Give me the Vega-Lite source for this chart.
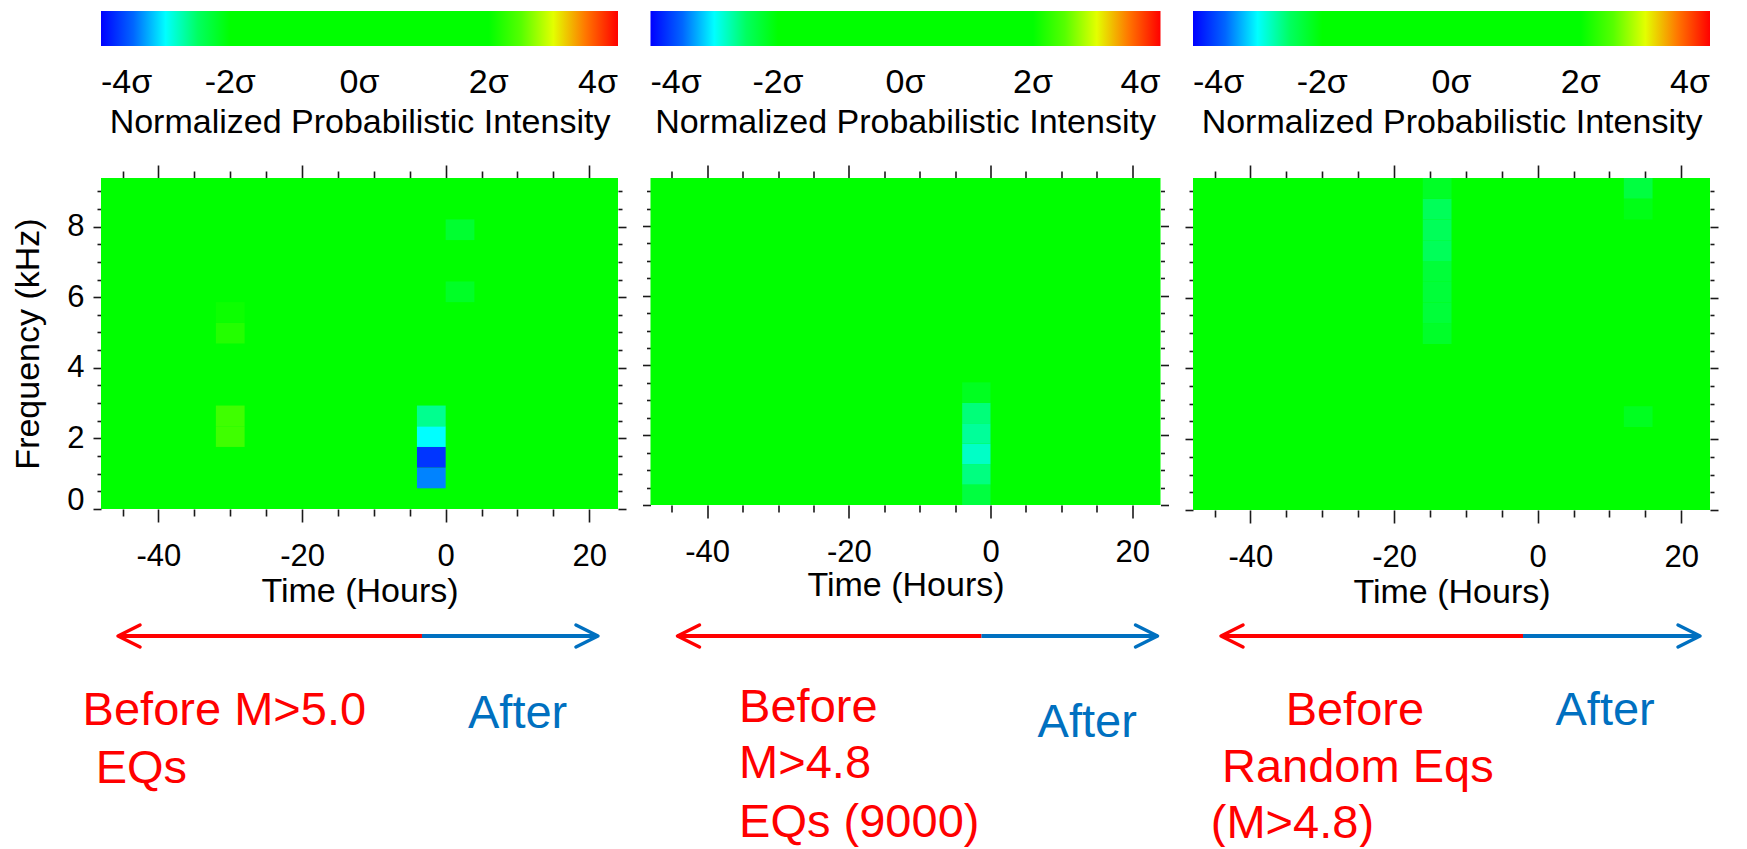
{
"$schema": "https://vega.github.io/schema/vega-lite/v6.json",
"background": "white",
"padding": {"left": 11, "top": 11, "right": 0, "bottom": 0},
"config": {
  "view": {"stroke": null},
  "axis": {"domain": false, "grid": false, "tickColor": "#1a1a1a", "tickWidth": 1.6, "labelFont": "Liberation Sans", "titleFont": "Liberation Sans", "labelColor": "#000", "titleColor": "#000", "titleFontWeight": "normal", "labelFontSize": 31, "titleFontSize": 34},
  "legend": {"labelFont": "Liberation Sans", "titleFont": "Liberation Sans", "labelColor": "#000", "titleColor": "#000", "titleFontWeight": "normal", "titleLimit": 1000, "labelLimit": 200}
},
"datasets": {
  "cells": [
    {"panel":1,"t0":-48,"t1":24,"f0":0,"f1":9.375,"v":0},
    {"panel":1,"t0":-4,"t1":0,"f0":0.586,"f1":1.172,"v":-3.35},
    {"panel":1,"t0":-4,"t1":0,"f0":1.172,"f1":1.758,"v":-3.75},
    {"panel":1,"t0":-4,"t1":0,"f0":1.758,"f1":2.344,"v":-3.0},
    {"panel":1,"t0":-4,"t1":0,"f0":2.344,"f1":2.93,"v":-2.65},
    {"panel":1,"t0":-32,"t1":-28,"f0":1.758,"f1":2.344,"v":2.42},
    {"panel":1,"t0":-32,"t1":-28,"f0":2.344,"f1":2.93,"v":2.42},
    {"panel":1,"t0":-32,"t1":-28,"f0":4.688,"f1":5.273,"v":2.32},
    {"panel":1,"t0":-32,"t1":-28,"f0":5.273,"f1":5.859,"v":2.24},
    {"panel":1,"t0":0,"t1":4,"f0":5.859,"f1":6.445,"v":-2.32},
    {"panel":1,"t0":0,"t1":4,"f0":7.617,"f1":8.203,"v":-2.35},
    {"panel":2,"t0":-48,"t1":24,"f0":0,"f1":9.375,"v":0},
    {"panel":2,"t0":-4,"t1":0,"f0":0,"f1":0.586,"v":-2.4},
    {"panel":2,"t0":-4,"t1":0,"f0":0.586,"f1":1.172,"v":-2.6},
    {"panel":2,"t0":-4,"t1":0,"f0":1.172,"f1":1.758,"v":-2.82},
    {"panel":2,"t0":-4,"t1":0,"f0":1.758,"f1":2.344,"v":-2.68},
    {"panel":2,"t0":-4,"t1":0,"f0":2.344,"f1":2.93,"v":-2.58},
    {"panel":2,"t0":-4,"t1":0,"f0":2.93,"f1":3.516,"v":-2.3},
    {"panel":3,"t0":-48,"t1":24,"f0":0,"f1":9.375,"v":0},
    {"panel":3,"t0":-16,"t1":-12,"f0":4.688,"f1":5.273,"v":-2.33},
    {"panel":3,"t0":-16,"t1":-12,"f0":5.273,"f1":5.859,"v":-2.38},
    {"panel":3,"t0":-16,"t1":-12,"f0":5.859,"f1":6.445,"v":-2.38},
    {"panel":3,"t0":-16,"t1":-12,"f0":6.445,"f1":7.031,"v":-2.38},
    {"panel":3,"t0":-16,"t1":-12,"f0":7.031,"f1":7.617,"v":-2.48},
    {"panel":3,"t0":-16,"t1":-12,"f0":7.617,"f1":8.203,"v":-2.48},
    {"panel":3,"t0":-16,"t1":-12,"f0":8.203,"f1":8.789,"v":-2.48},
    {"panel":3,"t0":-16,"t1":-12,"f0":8.789,"f1":9.375,"v":-2.32},
    {"panel":3,"t0":12,"t1":16,"f0":8.789,"f1":9.375,"v":-2.4},
    {"panel":3,"t0":12,"t1":16,"f0":8.203,"f1":8.789,"v":-2.27},
    {"panel":3,"t0":12,"t1":16,"f0":2.344,"f1":2.93,"v":-2.3}
  ],
  "arrows": [
    {"panel":1,"phase":"Before","t0":-45.63,"t1":-3.3,"f":-3.597},
    {"panel":1,"phase":"After","t0":-3.3,"t1":21.21,"f":-3.597},
    {"panel":2,"phase":"Before","t0":-44.19,"t1":-1.27,"f":-3.756},
    {"panel":2,"phase":"After","t0":-1.27,"t1":23.58,"f":-3.756},
    {"panel":3,"phase":"Before","t0":-44.1,"t1":-2.04,"f":-3.558},
    {"panel":3,"phase":"After","t0":-2.04,"t1":22.61,"f":-3.558}
  ],
  "heads": [
    {"panel":1,"phase":"Before","t":-45.63,"f":-3.597},
    {"panel":1,"phase":"After","t":21.21,"f":-3.597},
    {"panel":2,"phase":"Before","t":-44.19,"f":-3.756},
    {"panel":2,"phase":"After","t":23.58,"f":-3.756},
    {"panel":3,"phase":"Before","t":-44.1,"f":-3.558},
    {"panel":3,"phase":"After","t":22.61,"f":-3.558}
  ],
  "notes": [
    {"panel":1,"phase":"Before","t":-50.56,"f":-6.118,"label":"Before M>5.0"},
    {"panel":1,"phase":"Before","t":-48.74,"f":-7.752,"label":"EQs"},
    {"panel":1,"phase":"After","t":3.11,"f":-6.203,"label":"After"},
    {"panel":2,"phase":"Before","t":-35.49,"f":-6.221,"label":"Before"},
    {"panel":2,"phase":"Before","t":-35.49,"f":-7.827,"label":"M>4.8"},
    {"panel":2,"phase":"Before","t":-35.49,"f":-9.518,"label":"EQs (9000)"},
    {"panel":2,"phase":"After","t":6.64,"f":-6.651,"label":"After"},
    {"panel":3,"phase":"Before","t":-35.1,"f":-6.071,"label":"Before"},
    {"panel":3,"phase":"Before","t":-43.96,"f":-7.672,"label":"Random Eqs"},
    {"panel":3,"phase":"Before","t":-45.52,"f":-9.262,"label":"(M>4.8)"},
    {"panel":3,"phase":"After","t":2.48,"f":-6.071,"label":"After"}
  ]
},
"spacing": 14.5,
"resolve": {"scale": {"color": "independent"}, "legend": {"color": "independent"}},
"hconcat": [
  {
    "width": 517, "height": 331,
    "resolve": {"axis": {"x": "independent", "y": "independent"}},
    "layer": [
      {"data": {"name": "cells"}, "transform": [{"filter": "datum.panel === 1"}],
       "mark": {"type": "rect"},
       "encoding": {
         "x": {"field": "t0", "type": "quantitative", "scale": {"domain": [-48, 24], "nice": false, "zero": false},
               "axis": {"orient": "bottom", "values": [-40,-20,0,20], "tickSize": 13, "labelExpr": "'' + datum.value", "labelBaseline": "alphabetic", "labelPadding": 43, "labelFlush": false, "labelOverlap": false, "title": "Time (Hours)", "titleBaseline": "alphabetic", "titleY": 92}},
         "x2": {"field": "t1"},
         "y": {"field": "f0", "type": "quantitative", "scale": {"domain": [0, 9.375], "nice": false, "zero": false},
               "axis": {"orient": "left", "values": [0,2,4,6,8], "tickSize": 8, "labelExpr": "'' + datum.value", "labelPadding": 9, "labelBaseline": {"condition": {"test": "datum.value === 0", "value": "alphabetic"}, "value": "middle"}, "title": "Frequency (kHz)", "titleX": -56}},
         "y2": {"field": "f1"},
         "color": {"field": "v", "type": "quantitative",
                   "scale": {"type": "linear", "domain": [-4,-3.7,-3.2,-3,-2.2,2.2,2.7,3.1,3.4,3.7,4], "range": ["#0000ff","#0040ff","#00a0ff","#00ffff","#00ff00","#00ff00","#90ff00","#ffff00","#ff9900","#ff3000","#ff0000"], "interpolate": "rgb"},
                   "legend": {"orient": "none", "legendX": 0, "legendY": -167, "direction": "horizontal", "gradientLength": 517, "gradientThickness": 35, "gradientStrokeWidth": 0, "values": [-4,-2,0,2,4], "labelExpr": "datum.value + 'σ'", "labelFontSize": 34, "labelAlign": "center", "labelOffset": 20, "labelOverlap": false, "title": "Normalized Probabilistic Intensity", "titleOrient": "bottom", "titleAnchor": "middle", "titleFontSize": 34, "titlePadding": 6, "padding": 0}}
       }},
      {"data": {"name": "cells"}, "transform": [{"filter": "datum.panel === 1"}],
       "mark": {"type": "rect", "opacity": 0},
       "encoding": {
         "x": {"field": "t0", "type": "quantitative", "scale": {"domain": [-48, 24], "nice": false, "zero": false},
               "axis": {"orient": "bottom", "values": [-45,-35,-30,-25,-15,-10,-5,5,10,15], "tickSize": 7, "labels": false, "title": null}},
         "x2": {"field": "t1"},
         "y": {"field": "f0", "type": "quantitative", "scale": {"domain": [0, 9.375], "nice": false, "zero": false},
               "axis": {"orient": "left", "values": [0.5,1,1.5,2.5,3,3.5,4.5,5,5.5,6.5,7,7.5,8.5,9], "tickSize": 4, "labels": false, "title": null}},
         "y2": {"field": "f1"}
       }},
      {"data": {"name": "cells"}, "transform": [{"filter": "datum.panel === 1"}],
       "mark": {"type": "rect", "opacity": 0},
       "encoding": {
         "x": {"field": "t0", "type": "quantitative", "scale": {"domain": [-48, 24], "nice": false, "zero": false},
               "axis": {"orient": "top", "values": [-40,-20,0,20], "tickSize": 13, "labels": false, "title": null}},
         "x2": {"field": "t1"},
         "y": {"field": "f0", "type": "quantitative", "scale": {"domain": [0, 9.375], "nice": false, "zero": false},
               "axis": {"orient": "right", "values": [0,2,4,6,8], "tickSize": 8, "labels": false, "title": null}},
         "y2": {"field": "f1"}
       }},
      {"data": {"name": "cells"}, "transform": [{"filter": "datum.panel === 1"}],
       "mark": {"type": "rect", "opacity": 0},
       "encoding": {
         "x": {"field": "t0", "type": "quantitative", "scale": {"domain": [-48, 24], "nice": false, "zero": false},
               "axis": {"orient": "top", "values": [-45,-35,-30,-25,-15,-10,-5,5,10,15], "tickSize": 7, "labels": false, "title": null}},
         "x2": {"field": "t1"},
         "y": {"field": "f0", "type": "quantitative", "scale": {"domain": [0, 9.375], "nice": false, "zero": false},
               "axis": {"orient": "right", "values": [0.5,1,1.5,2.5,3,3.5,4.5,5,5.5,6.5,7,7.5,8.5,9], "tickSize": 4, "labels": false, "title": null}},
         "y2": {"field": "f1"}
       }},
      {"data": {"name": "arrows"}, "transform": [{"filter": "datum.panel === 1"}],
       "mark": {"type": "rule", "strokeWidth": 4},
       "encoding": {
         "x": {"field": "t0", "type": "quantitative", "scale": {"domain": [-48, 24], "nice": false, "zero": false}, "axis": null},
         "x2": {"field": "t1"},
         "y": {"field": "f", "type": "quantitative", "scale": {"domain": [0, 9.375], "nice": false, "zero": false}, "axis": null},
         "stroke": {"field": "phase", "type": "nominal", "scale": {"domain": ["Before","After"], "range": ["#ff0000","#0070c0"]}, "legend": null}
       }},
      {"data": {"name": "heads"}, "transform": [{"filter": "datum.panel === 1"}],
       "mark": {"type": "point", "filled": false, "strokeWidth": 3.5, "strokeJoin": "round", "strokeCap": "round", "size": 484, "opacity": 1},
       "encoding": {
         "x": {"field": "t", "type": "quantitative", "scale": {"domain": [-48, 24], "nice": false, "zero": false}, "axis": null},
         "y": {"field": "f", "type": "quantitative", "scale": {"domain": [0, 9.375], "nice": false, "zero": false}, "axis": null},
         "stroke": {"field": "phase", "type": "nominal", "scale": {"domain": ["Before","After"], "range": ["#ff0000","#0070c0"]}, "legend": null},
         "shape": {"field": "phase", "type": "nominal", "scale": {"domain": ["Before","After"], "range": ["M2,-1L0,0L2,1","M-2,-1L0,0L-2,1"]}, "legend": null}
       }},
      {"data": {"name": "notes"}, "transform": [{"filter": "datum.panel === 1"}],
       "mark": {"type": "text", "align": "left", "baseline": "alphabetic", "fontSize": 47, "font": "Liberation Sans"},
       "encoding": {
         "x": {"field": "t", "type": "quantitative", "scale": {"domain": [-48, 24], "nice": false, "zero": false}, "axis": null},
         "y": {"field": "f", "type": "quantitative", "scale": {"domain": [0, 9.375], "nice": false, "zero": false}, "axis": null},
         "text": {"field": "label"},
         "fill": {"field": "phase", "type": "nominal", "scale": {"domain": ["Before","After"], "range": ["#ff0000","#0070c0"]}, "legend": null}
       }}
    ]
  },
  {
    "width": 510, "height": 327,
    "resolve": {"axis": {"x": "independent", "y": "independent"}},
    "layer": [
      {"data": {"name": "cells"}, "transform": [{"filter": "datum.panel === 2"}],
       "mark": {"type": "rect"},
       "encoding": {
         "x": {"field": "t0", "type": "quantitative", "scale": {"domain": [-48, 24], "nice": false, "zero": false},
               "axis": {"orient": "bottom", "values": [-40,-20,0,20], "tickSize": 13, "labelExpr": "'' + datum.value", "labelBaseline": "alphabetic", "labelPadding": 43, "labelFlush": false, "labelOverlap": false, "title": "Time (Hours)", "titleBaseline": "alphabetic", "titleY": 90}},
         "x2": {"field": "t1"},
         "y": {"field": "f0", "type": "quantitative", "scale": {"domain": [0, 9.375], "nice": false, "zero": false},
               "axis": {"orient": "left", "values": [0,2,4,6,8], "tickSize": 8, "labels": false, "title": null}},
         "y2": {"field": "f1"},
         "color": {"field": "v", "type": "quantitative",
                   "scale": {"type": "linear", "domain": [-4,-3.7,-3.2,-3,-2.2,2.2,2.7,3.1,3.4,3.7,4], "range": ["#0000ff","#0040ff","#00a0ff","#00ffff","#00ff00","#00ff00","#90ff00","#ffff00","#ff9900","#ff3000","#ff0000"], "interpolate": "rgb"},
                   "legend": {"orient": "none", "legendX": 0, "legendY": -167, "direction": "horizontal", "gradientLength": 510, "gradientThickness": 35, "gradientStrokeWidth": 0, "values": [-4,-2,0,2,4], "labelExpr": "datum.value + 'σ'", "labelFontSize": 34, "labelAlign": "center", "labelOffset": 20, "labelOverlap": false, "title": "Normalized Probabilistic Intensity", "titleOrient": "bottom", "titleAnchor": "middle", "titleFontSize": 34, "titlePadding": 6, "padding": 0}}
       }},
      {"data": {"name": "cells"}, "transform": [{"filter": "datum.panel === 2"}],
       "mark": {"type": "rect", "opacity": 0},
       "encoding": {
         "x": {"field": "t0", "type": "quantitative", "scale": {"domain": [-48, 24], "nice": false, "zero": false},
               "axis": {"orient": "bottom", "values": [-45,-35,-30,-25,-15,-10,-5,5,10,15], "tickSize": 7, "labels": false, "title": null}},
         "x2": {"field": "t1"},
         "y": {"field": "f0", "type": "quantitative", "scale": {"domain": [0, 9.375], "nice": false, "zero": false},
               "axis": {"orient": "left", "values": [0.5,1,1.5,2.5,3,3.5,4.5,5,5.5,6.5,7,7.5,8.5,9], "tickSize": 4, "labels": false, "title": null}},
         "y2": {"field": "f1"}
       }},
      {"data": {"name": "cells"}, "transform": [{"filter": "datum.panel === 2"}],
       "mark": {"type": "rect", "opacity": 0},
       "encoding": {
         "x": {"field": "t0", "type": "quantitative", "scale": {"domain": [-48, 24], "nice": false, "zero": false},
               "axis": {"orient": "top", "values": [-40,-20,0,20], "tickSize": 13, "labels": false, "title": null}},
         "x2": {"field": "t1"},
         "y": {"field": "f0", "type": "quantitative", "scale": {"domain": [0, 9.375], "nice": false, "zero": false},
               "axis": {"orient": "right", "values": [0,2,4,6,8], "tickSize": 8, "labels": false, "title": null}},
         "y2": {"field": "f1"}
       }},
      {"data": {"name": "cells"}, "transform": [{"filter": "datum.panel === 2"}],
       "mark": {"type": "rect", "opacity": 0},
       "encoding": {
         "x": {"field": "t0", "type": "quantitative", "scale": {"domain": [-48, 24], "nice": false, "zero": false},
               "axis": {"orient": "top", "values": [-45,-35,-30,-25,-15,-10,-5,5,10,15], "tickSize": 7, "labels": false, "title": null}},
         "x2": {"field": "t1"},
         "y": {"field": "f0", "type": "quantitative", "scale": {"domain": [0, 9.375], "nice": false, "zero": false},
               "axis": {"orient": "right", "values": [0.5,1,1.5,2.5,3,3.5,4.5,5,5.5,6.5,7,7.5,8.5,9], "tickSize": 4, "labels": false, "title": null}},
         "y2": {"field": "f1"}
       }},
      {"data": {"name": "arrows"}, "transform": [{"filter": "datum.panel === 2"}],
       "mark": {"type": "rule", "strokeWidth": 4},
       "encoding": {
         "x": {"field": "t0", "type": "quantitative", "scale": {"domain": [-48, 24], "nice": false, "zero": false}, "axis": null},
         "x2": {"field": "t1"},
         "y": {"field": "f", "type": "quantitative", "scale": {"domain": [0, 9.375], "nice": false, "zero": false}, "axis": null},
         "stroke": {"field": "phase", "type": "nominal", "scale": {"domain": ["Before","After"], "range": ["#ff0000","#0070c0"]}, "legend": null}
       }},
      {"data": {"name": "heads"}, "transform": [{"filter": "datum.panel === 2"}],
       "mark": {"type": "point", "filled": false, "strokeWidth": 3.5, "strokeJoin": "round", "strokeCap": "round", "size": 484, "opacity": 1},
       "encoding": {
         "x": {"field": "t", "type": "quantitative", "scale": {"domain": [-48, 24], "nice": false, "zero": false}, "axis": null},
         "y": {"field": "f", "type": "quantitative", "scale": {"domain": [0, 9.375], "nice": false, "zero": false}, "axis": null},
         "stroke": {"field": "phase", "type": "nominal", "scale": {"domain": ["Before","After"], "range": ["#ff0000","#0070c0"]}, "legend": null},
         "shape": {"field": "phase", "type": "nominal", "scale": {"domain": ["Before","After"], "range": ["M2,-1L0,0L2,1","M-2,-1L0,0L-2,1"]}, "legend": null}
       }},
      {"data": {"name": "notes"}, "transform": [{"filter": "datum.panel === 2"}],
       "mark": {"type": "text", "align": "left", "baseline": "alphabetic", "fontSize": 47, "font": "Liberation Sans"},
       "encoding": {
         "x": {"field": "t", "type": "quantitative", "scale": {"domain": [-48, 24], "nice": false, "zero": false}, "axis": null},
         "y": {"field": "f", "type": "quantitative", "scale": {"domain": [0, 9.375], "nice": false, "zero": false}, "axis": null},
         "text": {"field": "label"},
         "fill": {"field": "phase", "type": "nominal", "scale": {"domain": ["Before","After"], "range": ["#ff0000","#0070c0"]}, "legend": null}
       }}
    ]
  },
  {
    "width": 517, "height": 332,
    "resolve": {"axis": {"x": "independent", "y": "independent"}},
    "layer": [
      {"data": {"name": "cells"}, "transform": [{"filter": "datum.panel === 3"}],
       "mark": {"type": "rect"},
       "encoding": {
         "x": {"field": "t0", "type": "quantitative", "scale": {"domain": [-48, 24], "nice": false, "zero": false},
               "axis": {"orient": "bottom", "values": [-40,-20,0,20], "tickSize": 13, "labelExpr": "'' + datum.value", "labelBaseline": "alphabetic", "labelPadding": 43, "labelFlush": false, "labelOverlap": false, "title": "Time (Hours)", "titleBaseline": "alphabetic", "titleY": 92}},
         "x2": {"field": "t1"},
         "y": {"field": "f0", "type": "quantitative", "scale": {"domain": [0, 9.375], "nice": false, "zero": false},
               "axis": {"orient": "left", "values": [0,2,4,6,8], "tickSize": 8, "labels": false, "title": null}},
         "y2": {"field": "f1"},
         "color": {"field": "v", "type": "quantitative",
                   "scale": {"type": "linear", "domain": [-4,-3.7,-3.2,-3,-2.2,2.2,2.7,3.1,3.4,3.7,4], "range": ["#0000ff","#0040ff","#00a0ff","#00ffff","#00ff00","#00ff00","#90ff00","#ffff00","#ff9900","#ff3000","#ff0000"], "interpolate": "rgb"},
                   "legend": {"orient": "none", "legendX": 0, "legendY": -167, "direction": "horizontal", "gradientLength": 517, "gradientThickness": 35, "gradientStrokeWidth": 0, "values": [-4,-2,0,2,4], "labelExpr": "datum.value + 'σ'", "labelFontSize": 34, "labelAlign": "center", "labelOffset": 20, "labelOverlap": false, "title": "Normalized Probabilistic Intensity", "titleOrient": "bottom", "titleAnchor": "middle", "titleFontSize": 34, "titlePadding": 6, "padding": 0}}
       }},
      {"data": {"name": "cells"}, "transform": [{"filter": "datum.panel === 3"}],
       "mark": {"type": "rect", "opacity": 0},
       "encoding": {
         "x": {"field": "t0", "type": "quantitative", "scale": {"domain": [-48, 24], "nice": false, "zero": false},
               "axis": {"orient": "bottom", "values": [-45,-35,-30,-25,-15,-10,-5,5,10,15], "tickSize": 7, "labels": false, "title": null}},
         "x2": {"field": "t1"},
         "y": {"field": "f0", "type": "quantitative", "scale": {"domain": [0, 9.375], "nice": false, "zero": false},
               "axis": {"orient": "left", "values": [0.5,1,1.5,2.5,3,3.5,4.5,5,5.5,6.5,7,7.5,8.5,9], "tickSize": 4, "labels": false, "title": null}},
         "y2": {"field": "f1"}
       }},
      {"data": {"name": "cells"}, "transform": [{"filter": "datum.panel === 3"}],
       "mark": {"type": "rect", "opacity": 0},
       "encoding": {
         "x": {"field": "t0", "type": "quantitative", "scale": {"domain": [-48, 24], "nice": false, "zero": false},
               "axis": {"orient": "top", "values": [-40,-20,0,20], "tickSize": 13, "labels": false, "title": null}},
         "x2": {"field": "t1"},
         "y": {"field": "f0", "type": "quantitative", "scale": {"domain": [0, 9.375], "nice": false, "zero": false},
               "axis": {"orient": "right", "values": [0,2,4,6,8], "tickSize": 8, "labels": false, "title": null}},
         "y2": {"field": "f1"}
       }},
      {"data": {"name": "cells"}, "transform": [{"filter": "datum.panel === 3"}],
       "mark": {"type": "rect", "opacity": 0},
       "encoding": {
         "x": {"field": "t0", "type": "quantitative", "scale": {"domain": [-48, 24], "nice": false, "zero": false},
               "axis": {"orient": "top", "values": [-45,-35,-30,-25,-15,-10,-5,5,10,15], "tickSize": 7, "labels": false, "title": null}},
         "x2": {"field": "t1"},
         "y": {"field": "f0", "type": "quantitative", "scale": {"domain": [0, 9.375], "nice": false, "zero": false},
               "axis": {"orient": "right", "values": [0.5,1,1.5,2.5,3,3.5,4.5,5,5.5,6.5,7,7.5,8.5,9], "tickSize": 4, "labels": false, "title": null}},
         "y2": {"field": "f1"}
       }},
      {"data": {"name": "arrows"}, "transform": [{"filter": "datum.panel === 3"}],
       "mark": {"type": "rule", "strokeWidth": 4},
       "encoding": {
         "x": {"field": "t0", "type": "quantitative", "scale": {"domain": [-48, 24], "nice": false, "zero": false}, "axis": null},
         "x2": {"field": "t1"},
         "y": {"field": "f", "type": "quantitative", "scale": {"domain": [0, 9.375], "nice": false, "zero": false}, "axis": null},
         "stroke": {"field": "phase", "type": "nominal", "scale": {"domain": ["Before","After"], "range": ["#ff0000","#0070c0"]}, "legend": null}
       }},
      {"data": {"name": "heads"}, "transform": [{"filter": "datum.panel === 3"}],
       "mark": {"type": "point", "filled": false, "strokeWidth": 3.5, "strokeJoin": "round", "strokeCap": "round", "size": 484, "opacity": 1},
       "encoding": {
         "x": {"field": "t", "type": "quantitative", "scale": {"domain": [-48, 24], "nice": false, "zero": false}, "axis": null},
         "y": {"field": "f", "type": "quantitative", "scale": {"domain": [0, 9.375], "nice": false, "zero": false}, "axis": null},
         "stroke": {"field": "phase", "type": "nominal", "scale": {"domain": ["Before","After"], "range": ["#ff0000","#0070c0"]}, "legend": null},
         "shape": {"field": "phase", "type": "nominal", "scale": {"domain": ["Before","After"], "range": ["M2,-1L0,0L2,1","M-2,-1L0,0L-2,1"]}, "legend": null}
       }},
      {"data": {"name": "notes"}, "transform": [{"filter": "datum.panel === 3"}],
       "mark": {"type": "text", "align": "left", "baseline": "alphabetic", "fontSize": 47, "font": "Liberation Sans"},
       "encoding": {
         "x": {"field": "t", "type": "quantitative", "scale": {"domain": [-48, 24], "nice": false, "zero": false}, "axis": null},
         "y": {"field": "f", "type": "quantitative", "scale": {"domain": [0, 9.375], "nice": false, "zero": false}, "axis": null},
         "text": {"field": "label"},
         "fill": {"field": "phase", "type": "nominal", "scale": {"domain": ["Before","After"], "range": ["#ff0000","#0070c0"]}, "legend": null}
       }}
    ]
  }
]
}
